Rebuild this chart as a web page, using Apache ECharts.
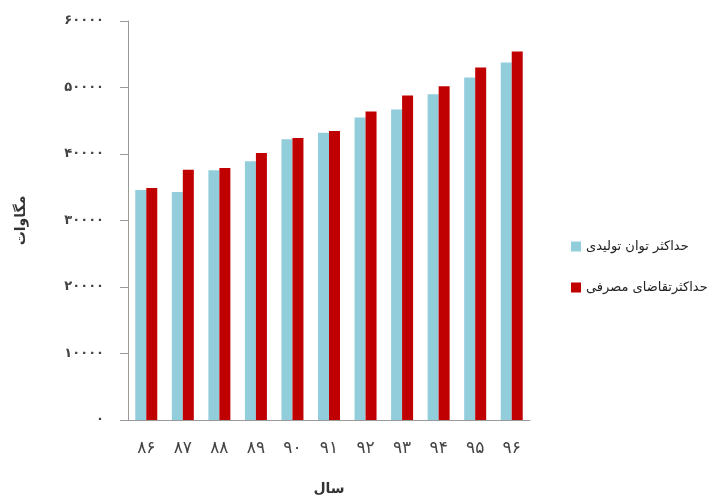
<!DOCTYPE html>
<html>
<head>
<meta charset="utf-8">
<script src="https://cdn.jsdelivr.net/npm/echarts@6/dist/echarts.min.js"></script>
<style>html,body{margin:0;padding:0;background:#fff}#c{width:721px;height:501px}</style>
</head>
<body>
<div id="c"></div>
<script>
const categories = ['۸۶','۸۷','۸۸','۸۹','۹۰','۹۱','۹۲','۹۳','۹۴','۹۵','۹۶'];
const production = [34600, 34300, 37550, 38900, 42200, 43200, 45500, 46700, 49000, 51500, 53750];
const demand = [34900, 37650, 37900, 40150, 42400, 43450, 46400, 48800, 50200, 53000, 55400];
const yTickValues = [0, 10000, 20000, 30000, 40000, 50000, 60000];
const yTickLabels = ['۰','۱۰۰۰۰','۲۰۰۰۰','۳۰۰۰۰','۴۰۰۰۰','۵۰۰۰۰','۶۰۰۰۰'];
const seriesNames = ['حداکثر توان تولیدی', 'حداکثرتقاضای مصرفی'];

const chart = echarts.init(document.getElementById('c'));
const font = 'DejaVu Sans';
chart.setOption({
  animation: false,
  textStyle: {fontFamily: font},
  grid: {left: 128, right: 191, top: 21, bottom: 76, containLabel: false},
  legend: {
    orient: 'vertical', left: 566, top: 235, itemGap: 28,
    itemWidth: 10, itemHeight: 10, icon: 'rect',
    textStyle: {fontSize: 13, color: '#222', fontFamily: font},
    data: seriesNames
  },
  xAxis: {
    type: 'category', data: categories,
    name: 'سال', nameLocation: 'middle', nameGap: 62,
    nameTextStyle: {fontSize: 14, fontWeight: 'bold', color: '#333', fontFamily: font},
    axisLine: {lineStyle: {color: '#999'}},
    axisTick: {length: 7, lineStyle: {color: '#999'}},
    axisLabel: {fontSize: 17, color: '#444', margin: 20, fontFamily: font}
  },
  yAxis: {
    type: 'value', min: 0, max: 60000, interval: 10000,
    name: 'مگاوات', nameLocation: 'middle', nameGap: 100, nameRotate: 90,
    nameTextStyle: {fontSize: 14, fontWeight: 'bold', color: '#333', fontFamily: font},
    axisLine: {show: true, lineStyle: {color: '#999'}},
    axisTick: {show: true, length: 8, lineStyle: {color: '#999'}},
    splitLine: {show: false},
    axisLabel: {
      fontSize: 13, color: '#444', margin: 24, fontWeight: 'bold', fontFamily: font,
      formatter: v => yTickLabels[yTickValues.indexOf(v)]
    }
  },
  series: [
    {name: seriesNames[0], type: 'bar', data: production, barWidth: 11, barGap: '0%', itemStyle: {color: '#92CDDC'}},
    {name: seriesNames[1], type: 'bar', data: demand, barWidth: 11, barGap: '0%', itemStyle: {color: '#C00000'}}
  ]
});
</script>
</body>
</html>
